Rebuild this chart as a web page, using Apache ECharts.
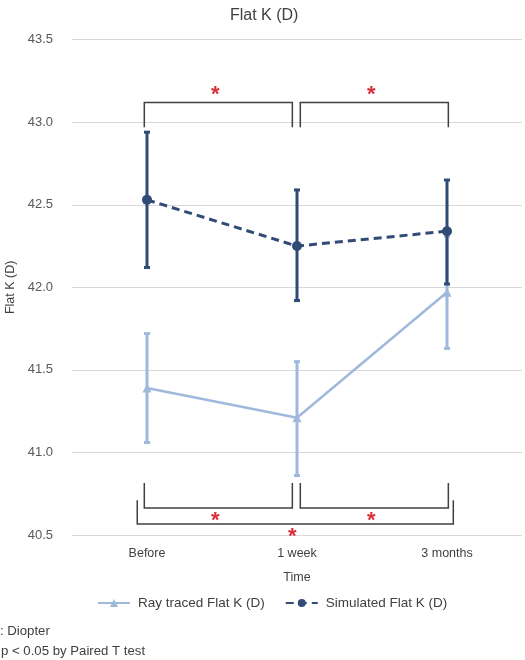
<!DOCTYPE html>
<html>
<head>
<meta charset="utf-8">
<script src="https://cdn.jsdelivr.net/npm/echarts@6/dist/echarts.min.js"></script>
<style>
  html, body { margin: 0; padding: 0; background: #fff; }
  #main { width: 525px; height: 660px; }
</style>
</head>
<body>
<div id="main"></div>
<script>
// data
var categories = ['Before', '1 week', '3 months'];
var rayMean = [41.39, 41.21, 41.97];
var rayUpper = [41.72, 41.55, 42.31];
var rayLower = [41.06, 40.86, 41.63];
var simMean = [42.53, 42.25, 42.34];
var simUpper = [42.94, 42.59, 42.65];
var simLower = [42.12, 41.92, 42.02];
var yTicks = [40.5, 43.5, 0.5]; // min, max, step

// significance brackets: [fromCat, toCat, barValue, tipValue]
var topBrackets = [[0, 1, 43.12, 42.97], [1, 2, 43.12, 42.97]];
var lowBrackets = [[0, 1, 40.664, 40.815], [1, 2, 40.664, 40.815]];
var outerBrackets = [[0, 2, 40.567, 40.71]];

var lightBlue = '#9fb9dd';
var darkBlue = '#2f4b76';
var starRed = '#d9303a';
var font = 'Liberation Sans';

function errData(lo, hi) {
    return lo.map(function (v, i) { return [i, v, hi[i]]; });
}

function errRender(color) {
    return function (params, api) {
        var lo = api.coord([api.value(0), api.value(1)]);
        var hi = api.coord([api.value(0), api.value(2)]);
        var half = 3;
        var st = { stroke: color, lineWidth: 3 };
        return {
            type: 'group',
            children: [
                { type: 'line', shape: { x1: lo[0], y1: lo[1], x2: hi[0], y2: hi[1] }, style: st },
                { type: 'line', shape: { x1: lo[0] - half, y1: lo[1], x2: lo[0] + half, y2: lo[1] }, style: st },
                { type: 'line', shape: { x1: hi[0] - half, y1: hi[1], x2: hi[0] + half, y2: hi[1] }, style: st }
            ]
        };
    };
}

// offsets: per bracket [start, end] as a fraction of the band width
function bracketRender(offsets, starDy) {
    return function (params, api) {
        var band = api.size([1, 0])[0];
        var off = offsets[params.dataIndex];
        var a = api.coord([api.value(0), api.value(2)]);
        var b = api.coord([api.value(1), api.value(2)]);
        var tipY = api.coord([api.value(0), api.value(3)])[1];
        var x1 = a[0] + off[0] * band, x2 = b[0] + off[1] * band, y = a[1];
        var st = { stroke: '#404040', lineWidth: 1.5, fill: null };
        return {
            type: 'group',
            children: [
                { type: 'polyline', shape: { points: [[x1, tipY], [x1, y], [x2, y], [x2, tipY]] }, style: st },
                {
                    type: 'text',
                    style: {
                        x: (x1 + x2) / 2 - 3, y: y + starDy, text: '*',
                        fill: starRed, font: 'bold 22px ' + font,
                        align: 'center', verticalAlign: 'middle'
                    }
                }
            ]
        };
    };
}

var pairOffsets = [[-0.018, -0.031], [0.022, 0.009]];

var chart = echarts.init(document.getElementById('main'));
chart.setOption({
    animation: false,
    textStyle: { fontFamily: font },
    title: {
        text: 'Flat K (D)', left: 225, top: 3,
        textStyle: { fontSize: 16, fontWeight: 'normal', color: '#404040' }
    },
    legend: {
        left: 92, top: 591, itemWidth: 32, itemHeight: 10, itemGap: 20,
        textStyle: { fontSize: 13.5, color: '#404040', padding: [0, 0, 0, 3] },
        data: ['Ray traced Flat K (D)', 'Simulated Flat K (D)']
    },
    grid: { left: 72, right: 3, top: 39.7, bottom: 125, outerBoundsMode: 'none' },
    xAxis: {
        type: 'category', data: categories,
        name: 'Time', nameLocation: 'middle', nameGap: 36,
        nameTextStyle: { fontSize: 12.5, color: '#404040' },
        axisLine: { show: false }, axisTick: { show: false },
        axisLabel: { fontSize: 12.5, color: '#404040', margin: 12 }
    },
    yAxis: {
        type: 'value', min: yTicks[0], max: yTicks[1], interval: yTicks[2],
        name: 'Flat K (D)', nameLocation: 'middle', nameGap: 49,
        nameTextStyle: { fontSize: 12.5, color: '#404040' },
        axisLabel: { fontSize: 13, color: '#595959', margin: 19, formatter: function (v) { return v.toFixed(1); } },
        splitLine: { lineStyle: { color: '#d9d9d9', width: 1 } }
    },
    series: [
        {
            type: 'custom', name: 'rayErr', renderItem: errRender(lightBlue),
            data: errData(rayLower, rayUpper), z: 2
        },
        {
            type: 'line', name: 'Ray traced Flat K (D)', data: rayMean,
            symbol: 'triangle', symbolSize: 9,
            itemStyle: { color: lightBlue },
            lineStyle: { color: lightBlue, width: 2.5 }, z: 3
        },
        {
            type: 'custom', name: 'simErr', renderItem: errRender(darkBlue),
            data: errData(simLower, simUpper), z: 4
        },
        {
            type: 'line', name: 'Simulated Flat K (D)', data: simMean,
            symbol: 'circle', symbolSize: 10,
            itemStyle: { color: darkBlue },
            lineStyle: { color: darkBlue, width: 3, type: [8, 5] }, z: 5
        },
        {
            type: 'custom', name: 'topBr', renderItem: bracketRender(pairOffsets, -8),
            data: topBrackets, z: 6, silent: true
        },
        {
            type: 'custom', name: 'lowBr', renderItem: bracketRender(pairOffsets, 13),
            data: lowBrackets, z: 6, silent: true
        },
        {
            type: 'custom', name: 'outerBr', renderItem: bracketRender([[-0.065, 0.042]], 13),
            data: outerBrackets, z: 6, silent: true
        }
    ],
    graphic: [
        { type: 'text', left: 0, top: 625, style: { text: ': Diopter', font: '13.2px ' + font, fill: '#404040' } },
        { type: 'text', left: 1, top: 645, style: { text: 'p < 0.05 by Paired T test', font: '13.2px ' + font, fill: '#404040' } }
    ]
});
</script>
</body>
</html>
